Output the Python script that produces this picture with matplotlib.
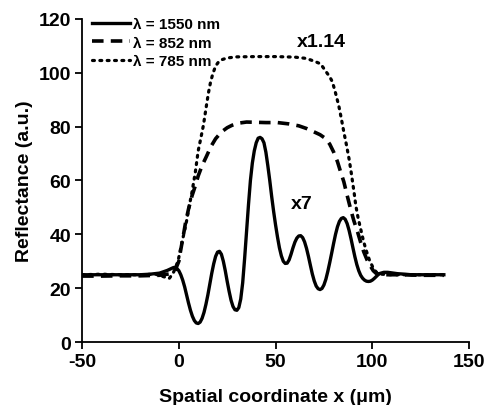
import matplotlib
matplotlib.use("Agg")
import matplotlib.pyplot as plt

# lambda = 1550 nm (scaled x7)
x_1550 = [-50, -40, -30, -20, -15, -10, -6, -3, -2, -1, 0, 1, 2, 3, 4, 5, 6, 7, 8, 9, 10, 11,
          12, 13, 14, 15, 16, 17, 18, 19, 20, 21, 22, 23, 24, 25, 26, 27, 28, 29, 30, 31, 32,
          33, 34, 35, 36, 37, 38, 39, 40, 41, 42, 43, 44, 45, 46, 47, 48, 49, 50, 51, 52, 53,
          54, 55, 56, 57, 58, 59, 60, 61, 62, 63, 64, 65, 66, 67, 68, 69, 70, 71, 72, 73, 74,
          75, 76, 77, 78, 79, 80, 81, 82, 83, 84, 85, 86, 87, 88, 89, 90, 91, 92, 93, 94, 95,
          96, 97, 98, 99, 100, 101, 102, 103, 104, 106, 108, 110, 113, 117, 120, 130, 137]
y_1550 = [25, 25, 25, 25, 25.2, 25.6, 26.6, 27.6, 27.8, 27.3, 26.5, 25, 23, 20.5, 17.5, 14.5,
          11.8, 9.6, 8, 7.1, 6.9, 7.4, 8.8, 11, 14, 17.5, 21.5, 25.5, 29, 31.8, 33.4, 33.7,
          32.6, 30, 26.5, 22.5, 18.8, 15.5, 13.2, 12, 11.8, 12.8, 16, 22, 31, 41, 51, 60, 66.5,
          71, 74, 75.7, 76, 75.5, 74, 70.5, 65.5, 60, 54, 48.5, 43.5, 39, 35, 32, 30, 29.2,
          29.3, 30.5, 32.6, 35, 37.1, 38.6, 39.4, 39.5, 38.8, 37.2, 34.8, 31.8, 28.5, 25.3,
          22.7, 20.8, 19.8, 19.5, 19.9, 21.2, 23.3, 26.2, 29.5, 33, 36.6, 40, 42.8, 44.8, 45.9,
          46.2, 45.6, 44, 41.5, 38.4, 35, 31.7, 28.8, 26.5, 24.8, 23.7, 23, 22.6, 22.5, 22.6,
          23, 23.6, 24.3, 25, 25.5, 25.9, 25.9, 25.7, 25.4, 25.2, 25, 25, 25]

# lambda = 852 nm
x_852 = [-50, -40, -30, -20, -10, -5, -2, 0, 0.8, 2.3, 3.5, 5, 6.8, 8.5, 10, 12, 14.3, 16.5,
         19, 22, 25, 27.5, 31, 35, 40, 45, 51, 57, 62, 66, 70, 73, 76, 78, 80, 82, 83.5, 85.3,
         87, 88.8, 90.5, 92.4, 94, 95.6, 97.3, 99, 100.5, 102, 105, 115, 125, 137]
y_852 = [24.5, 24.5, 24.6, 24.6, 24.8, 25.3, 26.5, 30, 33.5, 39.5, 44.5, 49.4, 54.3, 58, 61.7,
         65.5, 69, 72.5, 75.5, 78, 79.6, 80.5, 81.3, 81.7, 81.6, 81.5, 81.5, 81, 80.3, 79.3,
         78, 77, 75.5, 73.5, 70.6, 67, 63.5, 59.5, 54.5, 49.4, 45, 40.9, 37, 33.5, 30.5, 28.3,
         26.5, 25.5, 25, 25, 24.8, 24.8]

# lambda = 785 nm (scaled x1.14)
x_785 = [-50, -40, -30, -20, -12, -8, -5, -3, -1.5, -0.2, 1.6, 3, 4.2, 5.5, 6.8, 8.5, 10,
         11.3, 12.7, 14.3, 15.3, 16.3, 17.5, 19, 20.5, 22, 25, 30, 40, 50, 60, 65, 68, 71,
         73.3, 76, 78, 79.4, 81, 82.7, 84, 85.3, 86.7, 88, 89, 89.8, 90.7, 91.5, 92.7, 94,
         95.3, 96.6, 98.5, 100.8, 102.5, 105, 110, 120, 130, 137]
y_785 = [25, 25.2, 25, 25, 25.2, 24.3, 23.6, 25.5, 28, 30.8, 37, 41.5, 45.7, 51, 55.7, 63, 71,
         75.5, 80.5, 88, 92.5, 96.2, 99.5, 102.5, 104, 104.8, 105.5, 105.9, 106, 106, 105.8,
         105.4, 104.8, 104, 103.3, 100.5, 98.5, 96.6, 92.5, 87.7, 83, 78, 73, 68, 63.5, 59.5,
         55, 50.6, 46, 42, 38, 34.6, 30.5, 27, 25.7, 25.2, 25, 25, 25, 25]

plt.rcParams['font.family'] = 'Liberation Sans'
plt.rcParams['font.weight'] = 'bold'
plt.rcParams['axes.unicode_minus'] = False

fig = plt.figure(figsize=(4.86, 4.06), dpi=100)
ax = fig.add_axes([0.169, 0.155, 0.796, 0.796])

ax.plot(x_1550, y_1550, color='black', lw=2.4, label='λ = 1550 nm')
ax.plot(x_852, y_852, color='black', lw=2.6, ls=(0, (3.2, 2.0)), label='λ = 852 nm')
ax.plot(x_785, y_785, color='black', lw=2.3, ls=(0, (0.6, 1.7)), dash_capstyle='round',
        label='λ = 785 nm')

ax.text(73.8, 111.5, 'x1.14', fontsize=14, fontweight='bold', ha='center', va='center')
ax.text(63.6, 51.3, 'x7', fontsize=14, fontweight='bold', ha='center', va='center')

ax.set_xlim(-50, 150)
ax.set_ylim(0, 120)
ax.set_xticks([-50, 0, 50, 100, 150])
ax.set_yticks([0, 20, 40, 60, 80, 100, 120])
ax.spines['top'].set_visible(False)
ax.spines['right'].set_visible(False)
ax.spines['left'].set_linewidth(1.3)
ax.spines['bottom'].set_linewidth(1.3)
ax.tick_params(direction='out', length=5, width=1.3, labelsize=14, pad=3)
for lab in ax.get_xticklabels() + ax.get_yticklabels():
    lab.set_fontweight('bold')

ax.set_xlabel('Spatial coordinate x (μm)', fontsize=14, fontweight='bold', labelpad=13)
ax.set_ylabel('Reflectance (a.u.)', fontsize=14, fontweight='bold', labelpad=4)

leg = ax.legend(loc='upper left', frameon=False, fontsize=11, handlelength=2.5,
                handletextpad=0.2, borderaxespad=0.0, labelspacing=0.3,
                bbox_to_anchor=(0.01, 1.025))
for t in leg.get_texts():
    t.set_fontweight('bold')

fig.savefig('out.png', dpi=100)
